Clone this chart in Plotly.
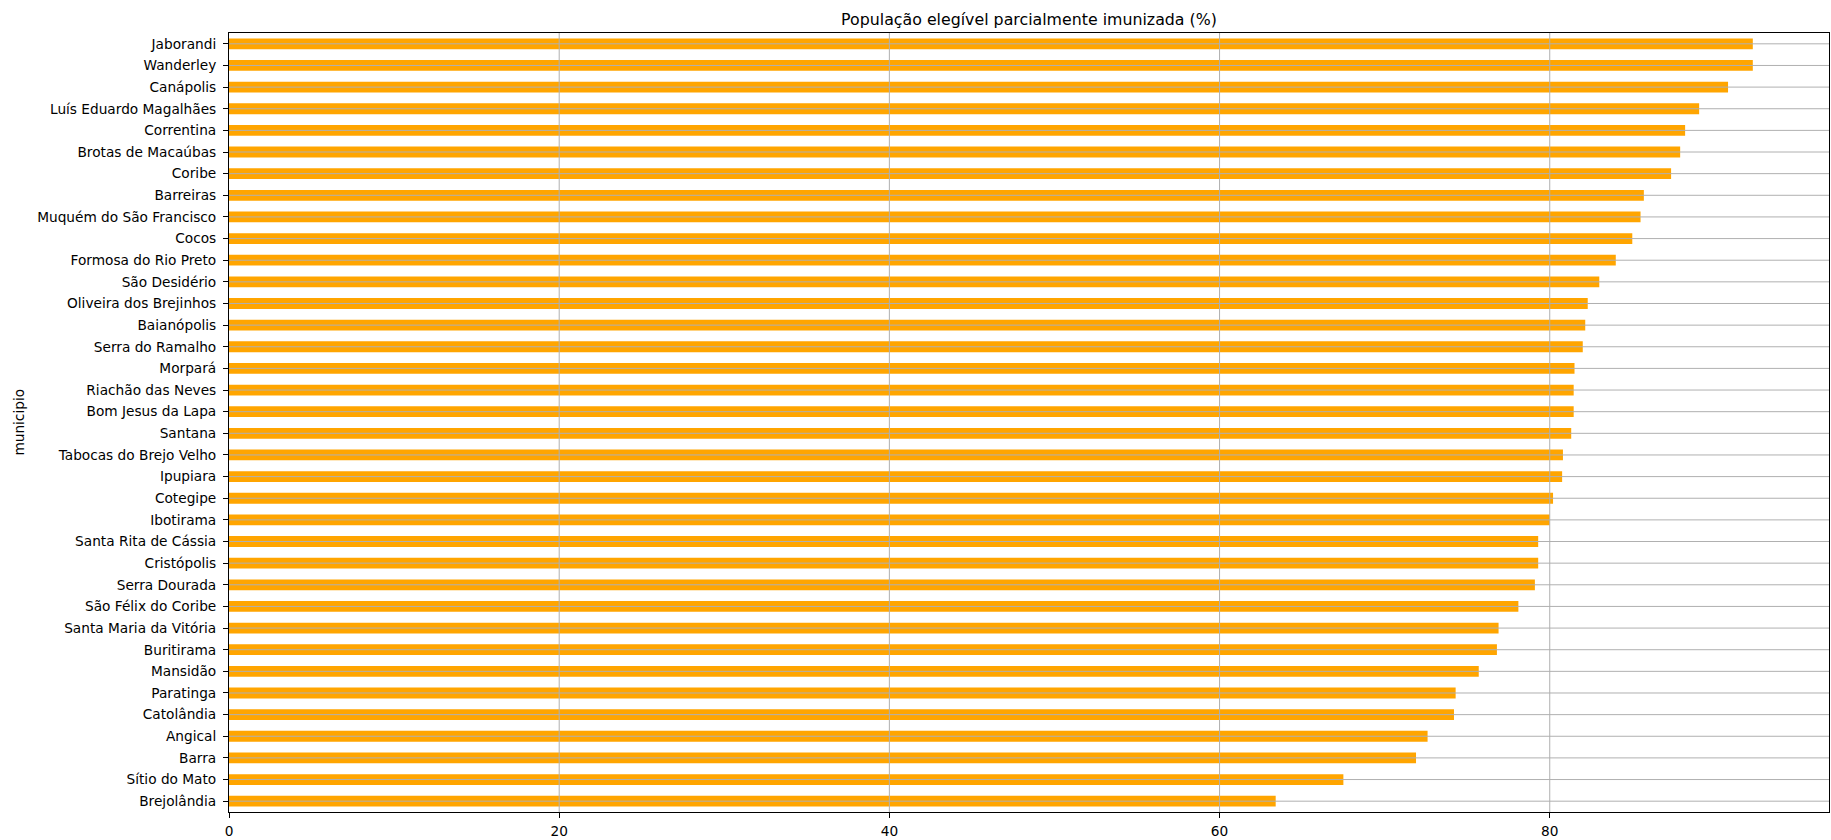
import plotly.graph_objects as go

municipios = [
    "Jaborandi", "Wanderley", "Canápolis", "Luís Eduardo Magalhães", "Correntina",
    "Brotas de Macaúbas", "Coribe", "Barreiras", "Muquém do São Francisco", "Cocos",
    "Formosa do Rio Preto", "São Desidério", "Oliveira dos Brejinhos", "Baianópolis",
    "Serra do Ramalho", "Morpará", "Riachão das Neves", "Bom Jesus da Lapa", "Santana",
    "Tabocas do Brejo Velho", "Ipupiara", "Cotegipe", "Ibotirama", "Santa Rita de Cássia",
    "Cristópolis", "Serra Dourada", "São Félix do Coribe", "Santa Maria da Vitória",
    "Buritirama", "Mansidão", "Paratinga", "Catolândia", "Angical", "Barra",
    "Sítio do Mato", "Brejolândia",
]
imunizada_pct = [
    92.3, 92.3, 90.8, 89.05, 88.2,
    87.9, 87.35, 85.7, 85.5, 85.0,
    84.0, 83.0, 82.3, 82.15,
    82.0, 81.5, 81.45, 81.45, 81.3,
    80.8, 80.75, 80.2, 80.0, 79.3,
    79.3, 79.1, 78.1, 76.9,
    76.8, 75.7, 74.3, 74.2, 72.6, 71.9,
    67.5, 63.4,
]
x_ticks = [0, 20, 40, 60, 80]

FONT = "DejaVu Sans"
GRID = "#b0b0b0"
TICK_SIZE = 13.7

fig = go.Figure(
    go.Bar(
        x=imunizada_pct,
        y=municipios,
        orientation="h",
        width=0.5,
        marker=dict(color="#FFA500", line=dict(width=0)),
        hoverinfo="x+y",
    )
)

shapes = []
for m in municipios:
    shapes.append(dict(type="line", xref="x domain", yref="y", x0=0, x1=1, y0=m, y1=m,
                       line=dict(color=GRID, width=1), layer="above"))
for t in x_ticks[1:]:
    shapes.append(dict(type="line", xref="x", yref="y domain", x0=t, x1=t, y0=0, y1=1,
                       line=dict(color=GRID, width=1), layer="above"))

fig.update_layout(
    width=1831,
    height=840,
    margin=dict(l=229, r=1, t=33, b=26),
    paper_bgcolor="white",
    plot_bgcolor="white",
    font=dict(family=FONT, size=TICK_SIZE, color="black"),
    showlegend=False,
    shapes=shapes,
    title=dict(
        text="População elegível parcialmente imunizada (%)",
        x=0.5, xref="paper", xanchor="center",
        y=1 - 19.3 / 840, yref="container", yanchor="middle",
        font=dict(family=FONT, size=15.8, color="black"),
    ),
    annotations=[
        dict(text="municipio", textangle=-90, xref="paper", yref="paper",
             x=-0.1318, y=0.5, xanchor="center", yanchor="middle", showarrow=False,
             font=dict(family=FONT, size=TICK_SIZE, color="black")),
    ],
)

fig.update_xaxes(
    range=[0, max(imunizada_pct) * 1.05],
    tickvals=x_ticks,
    ticktext=[str(t) for t in x_ticks],
    showgrid=False,
    zeroline=False,
    showline=True, mirror=True, linecolor="black", linewidth=1,
    ticks="outside", ticklen=5, tickcolor="black", tickwidth=1,
    ticklabelstandoff=2,
    tickfont=dict(family=FONT, size=TICK_SIZE, color="black"),
)
fig.update_yaxes(
    type="category",
    autorange="reversed",
    showgrid=False,
    zeroline=False,
    showline=True, mirror=True, linecolor="black", linewidth=1,
    ticks="outside", ticklen=5, tickcolor="black", tickwidth=1,
    ticklabelstandoff=4,
    tickfont=dict(family=FONT, size=TICK_SIZE, color="black"),
)

fig.write_html(
    "out.html",
    config={"displayModeBar": False},
    post_script="document.body.style.margin='0';document.body.style.overflow='hidden';",
)
